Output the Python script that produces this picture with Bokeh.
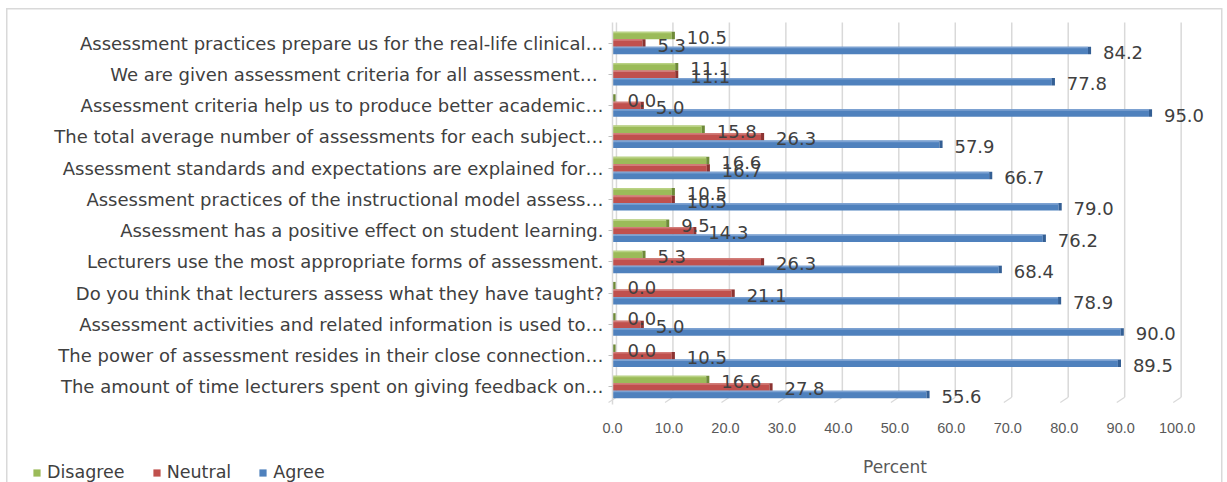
from bokeh.plotting import figure
from bokeh.models import (Range1d, FixedTicker, NumeralTickFormatter, Legend,
                          LegendItem)
from bokeh.core.properties import value
from bokeh.embed import file_html
from bokeh.resources import INLINE

# Survey statements, listed top to bottom as they appear on the chart
statements = [
    "Assessment practices prepare us for the real-life clinical\u2026",
    "We are given assessment  criteria for all assessment\u2026",
    "Assessment criteria help us to produce better academic\u2026",
    "The total average number of assessments for each subject\u2026",
    "Assessment standards and expectations are explained for\u2026",
    "Assessment practices of the instructional model assess\u2026",
    "Assessment has a positive effect on student learning.",
    "Lecturers use the most appropriate forms of assessment.",
    "Do you think that lecturers assess what they have taught?",
    "Assessment activities and related information is used to\u2026",
    "The power of assessment resides in their close connection\u2026",
    "The amount of time lecturers spent on giving feedback on\u2026",
]

# Percent of respondents per answer
disagree = [10.5, 11.1, 0.0, 15.8, 16.6, 10.5, 9.5, 5.3, 0.0, 0.0, 0.0, 16.6]
neutral = [5.3, 11.1, 5.0, 26.3, 16.7, 10.5, 14.3, 26.3, 21.1, 5.0, 10.5, 27.8]
agree = [84.2, 77.8, 95.0, 57.9, 66.7, 79.0, 76.2, 68.4, 78.9, 90.0, 89.5, 55.6]

series_names = ["Disagree", "Neutral", "Agree"]
x_ticks = [0, 10, 20, 30, 40, 50, 60, 70, 80, 90, 100]
x_title = "Percent"

n = len(statements)
rows = [n - 1 - i for i in range(n)]   # first statement on top

LABEL_FONT = "DejaVu Sans"
DARK_TEXT = "#404040"
GREY_TEXT = "#595959"
GRID = "#D9D9D9"

# The plot area fills the whole canvas; both axes are pinned inside it so
# that the statements, the axis title and the legend share one drawing area.
PX_PER_PCT = 5.647
PX_PER_ROW = 31.27
W, H = 1227, 482
ZERO_X = 612                # pixel column of 0 %
TOP_ROW_Y, BOTTOM_ROW_Y = 42.5, 386.5

x_start = -ZERO_X / PX_PER_PCT
x_end = (W - ZERO_X) / PX_PER_PCT
y_end = (n - 1) + TOP_ROW_Y / PX_PER_ROW
y_start = -(H - BOTTOM_ROW_Y) / PX_PER_ROW
wall_top = (n - 1) + 20.5 / PX_PER_ROW      # top edge of the back wall
floor = -17.5 / PX_PER_ROW                   # floor line under the last row

p = figure(width=W, height=H, output_backend="svg", toolbar_location=None,
           x_range=Range1d(x_start, x_end), y_range=Range1d(y_start, y_end),
           min_border=0)
p.outline_line_color = None
p.xgrid.visible = False
p.ygrid.visible = False
p.border_fill_alpha = 0
p.background_fill_alpha = 0
# thin light-grey chart-area border
p.styles = {
    "background": (
        f"linear-gradient({GRID},{GRID}) 6px 8px / 1.5px 100% no-repeat, "
        f"linear-gradient({GRID},{GRID}) 6px 8px / 1215px 1.5px no-repeat, "
        f"linear-gradient({GRID},{GRID}) 1221px 8px / 1.5px 100% no-repeat, "
        "white"
    )
}

# back-wall gridlines and the slanted floor marks of the 3-D frame
depth = 0.7
floor_top, floor_bottom = floor + 0.23, floor + 0.06
p.segment(x0=[t + depth for t in x_ticks], y0=floor_top,
          x1=[t + depth for t in x_ticks], y1=wall_top,
          line_color=GRID, line_width=1.5)
p.segment(x0=[t + depth for t in x_ticks], y0=floor_top,
          x1=[t - depth for t in x_ticks], y1=floor_bottom,
          line_color=GRID, line_width=1.2)

# bar styling: front face, lighter top face, darker end face
styles = {
    "Disagree": dict(front="#9BBB59", top="#B9D284", side="#6E8A38", off=0.24),
    "Neutral": dict(front="#C0504D", top="#D27C79", side="#8C3331", off=0.0),
    "Agree": dict(front="#4F81BD", top="#7DA2D2", side="#345F94", off=-0.24),
}
bar_h = 0.24
series_values = {"Disagree": disagree, "Neutral": neutral, "Agree": agree}

legend_items = []
for name in series_names:
    st = styles[name]
    vals = series_values[name]
    ys = [r + st["off"] for r in rows]
    front = p.hbar(y=ys, left=0, right=vals, height=bar_h,
                   fill_color=st["front"], line_color=None)
    p.hbar(y=[y + bar_h / 2 - 0.025 for y in ys], left=0, right=vals,
           height=0.05, fill_color=st["top"], line_color=None)
    p.hbar(y=ys, left=vals, right=[v + 0.55 for v in vals], height=bar_h,
           fill_color=st["side"], line_color=None)
    legend_items.append(LegendItem(label=name, renderers=[front]))

for name in series_names:
    st = styles[name]
    vals = series_values[name]
    ys = [r + st["off"] for r in rows]
    p.text(x=vals, y=ys, text=[f"{v:.1f}" for v in vals],
           x_offset=15, y_offset=2, text_align="left", text_baseline="middle",
           text_font=value(LABEL_FONT), text_font_size="18px",
           text_color=DARK_TEXT)

# percent axis, pinned to the floor of the chart
xa = p.xaxis[0]
xa.fixed_location = floor
xa.bounds = (x_ticks[0], x_ticks[-1])
xa.ticker = FixedTicker(ticks=x_ticks)
xa.formatter = NumeralTickFormatter(format="0.0")
xa.axis_line_color = None
xa.major_tick_line_color = None
xa.major_tick_out = 0
xa.minor_tick_line_color = None
xa.major_label_standoff = 19
xa.major_label_text_font = "Liberation Sans"
xa.major_label_text_font_size = "14.5px"
xa.major_label_text_color = GREY_TEXT
xa.axis_label = x_title
xa.axis_label_standoff = 20
xa.axis_label_text_font = LABEL_FONT
xa.axis_label_text_font_style = "normal"
xa.axis_label_text_font_size = "17px"
xa.axis_label_text_color = GREY_TEXT

# statement axis, pinned to 0 % (the left wall)
ya = p.yaxis[0]
ya.fixed_location = 0
ya.bounds = (floor, wall_top)
ya.ticker = FixedTicker(ticks=rows)
ya.major_label_overrides = {r: s for r, s in zip(rows, statements)}
ya.axis_line_color = GRID
ya.axis_line_width = 1.5
ya.major_tick_line_color = "#BFBFBF"
ya.major_tick_out = 4
ya.major_tick_in = 0
ya.minor_tick_line_color = None
ya.major_label_standoff = 5
ya.major_label_text_font = LABEL_FONT
ya.major_label_text_font_size = "18px"
ya.major_label_text_color = DARK_TEXT

p.add_layout(Legend(items=legend_items, orientation="horizontal",
                    location=(32, 0), padding=0, margin=0, spacing=27,
                    glyph_width=9, glyph_height=9, label_standoff=6,
                    label_height=20, border_line_color=None,
                    background_fill_alpha=0,
                    label_text_font=LABEL_FONT, label_text_font_size="17.5px",
                    label_text_color=DARK_TEXT))

open("out.html", "w").write(file_html(p, INLINE))
